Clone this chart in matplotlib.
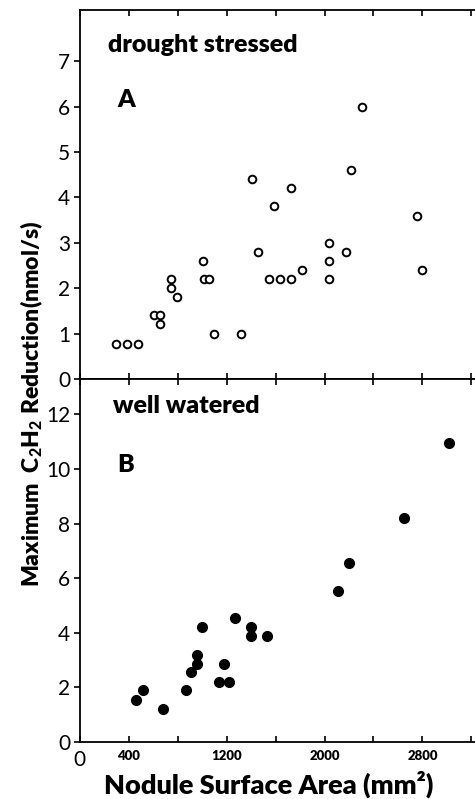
import matplotlib
matplotlib.use("Agg")
import matplotlib.pyplot as plt

# drought stressed (open circles)
area_a = [295, 387, 477, 608, 655, 655, 747, 747, 791, 1009, 1015, 1058, 1099,
          1318, 1410, 1454, 1544, 1590, 1634, 1724, 1724, 1814, 2035, 2038,
          2040, 2177, 2220, 2310, 2755, 2799]
red_a = [0.78, 0.78, 0.78, 1.4, 1.4, 1.2, 2.2, 2.0, 1.8, 2.6, 2.2, 2.2, 1.0,
         1.0, 4.4, 2.8, 2.2, 3.8, 2.2, 4.2, 2.2, 2.4, 3.0, 2.6,
         2.2, 2.8, 4.6, 6.0, 3.6, 2.4]

# well watered (filled circles)
area_b = [458, 513, 682, 867, 908, 955, 955, 996, 1135, 1176, 1219, 1268,
          1399, 1399, 1533, 2111, 2204, 2651, 3017]
red_b = [1.55, 1.9, 1.2, 1.9, 2.55, 2.85, 3.2, 4.2, 2.2, 2.85, 2.2, 4.55,
         4.2, 3.9, 3.9, 5.55, 6.55, 8.2, 10.95]

x_ticks = [0, 400, 800, 1200, 1600, 2000, 2400, 2800, 3200]
x_labels = ["0", "400", "", "1200", "", "2000", "", "2800", ""]
y_ticks_a = [0, 1, 2, 3, 4, 5, 6, 7]
y_ticks_b = [0, 2, 4, 6, 8, 10, 12]

plt.rcParams["font.family"] = ["Lato", "DejaVu Sans"]
plt.rcParams["mathtext.fontset"] = "custom"
plt.rcParams["mathtext.rm"] = "Lato"
plt.rcParams["mathtext.bf"] = "Lato:black"
plt.rcParams["mathtext.default"] = "bf"

fig = plt.figure(figsize=(4.75, 7.99), dpi=100)
ax1 = fig.add_axes([0.168, 0.5257, 0.832, 0.462])
ax2 = fig.add_axes([0.168, 0.0713, 0.832, 0.4544])

for ax in (ax1, ax2):
    ax.set_xlim(0, 3230)
    ax.set_xticks(x_ticks)
    ax.spines["right"].set_visible(False)
    for s in ax.spines.values():
        s.set_linewidth(1.3)
    ax.tick_params(axis="x", direction="in", top=True, bottom=True,
                   length=4, width=1.2)
    ax.tick_params(axis="y", direction="out", length=4, width=1.2,
                   labelsize=15, pad=3)

ax1.plot(area_a, red_a, "o", mfc="white", mec="black", ms=5.5, mew=1.4)
ax1.set_ylim(0, 8.13)
ax1.set_yticks(y_ticks_a)
ax1.set_xticklabels([])

ax2.plot(area_b, red_b, "o", color="black", ms=7)
ax2.set_ylim(0, 13.3)
ax2.set_yticks(y_ticks_b)
ax2.set_xticklabels(x_labels, fontsize=9.5, fontweight="heavy")
ax2.tick_params(axis="x", pad=6)
ax2.get_xticklabels()[0].set_fontsize(15)
ax2.get_xticklabels()[0].set_fontweight("normal")

ax1.text(0.071, 0.905, "drought stressed", transform=ax1.transAxes,
         fontsize=18, fontweight="heavy", va="center")
ax1.text(0.094, 0.756, "A", transform=ax1.transAxes,
         fontsize=18, fontweight="heavy", va="center")
ax2.text(0.084, 0.925, "well watered", transform=ax2.transAxes,
         fontsize=18, fontweight="heavy", va="center")
ax2.text(0.096, 0.762, "B", transform=ax2.transAxes,
         fontsize=18, fontweight="heavy", va="center")

fig.text(0.066, 0.495, r"Maximum  C$_2$H$_2$ Reduction(nmol/s)",
         rotation=90, fontsize=16.5, fontweight="heavy", ha="center", va="center")
fig.text(0.566, 0.018, "Nodule Surface Area (mm²)",
         fontsize=19.5, fontweight="heavy", ha="center", va="center")

fig.savefig("out.png", dpi=100)
